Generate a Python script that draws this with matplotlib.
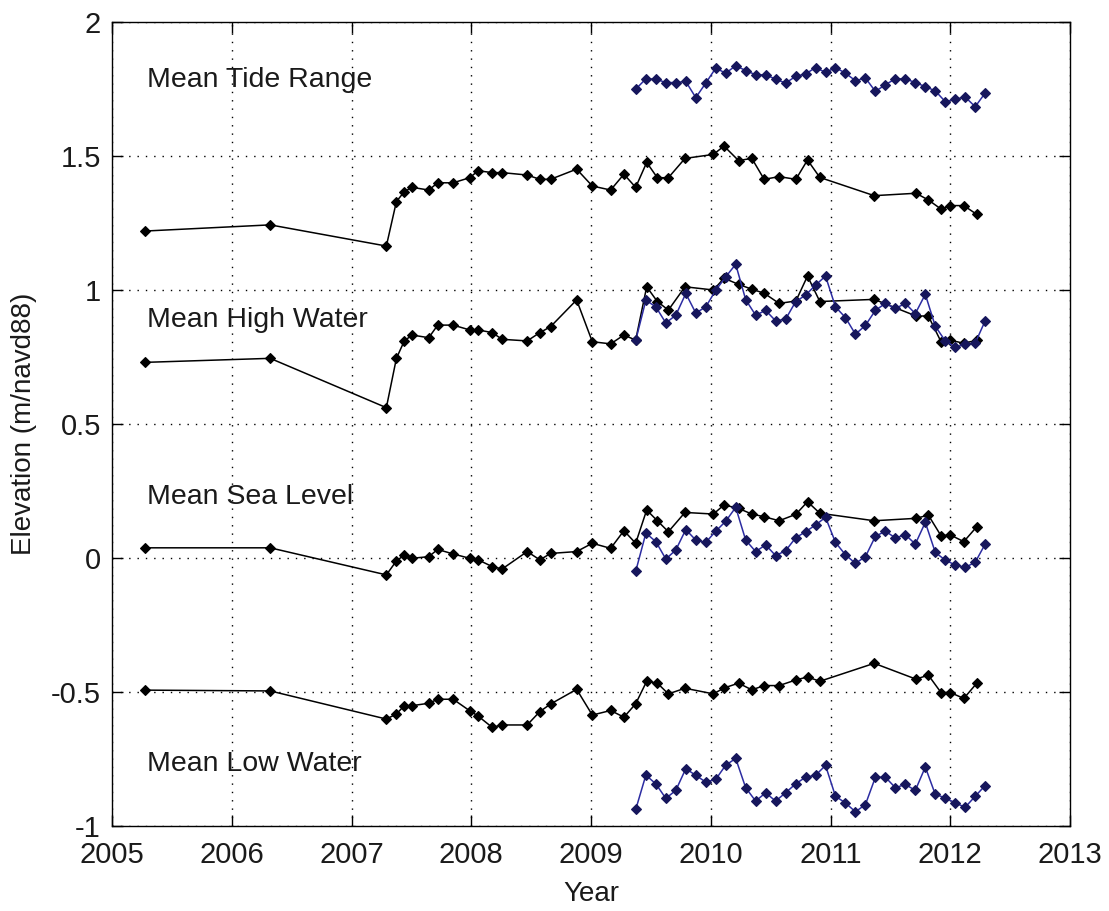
import numpy as np
import pandas as pd
import matplotlib
matplotlib.use("Agg")
import matplotlib.pyplot as plt
from matplotlib.ticker import FuncFormatter

plt.rcParams['font.family'] = ['Liberation Sans', 'DejaVu Sans']

# Survey epochs (decimal year) for the long record
black_years = [2005.276, 2006.321, 2007.291, 2007.375, 2007.441, 2007.506, 2007.645,
               2007.720, 2007.849, 2007.987, 2008.058, 2008.175, 2008.258, 2008.467,
               2008.573, 2008.662, 2008.880, 2009.011, 2009.164, 2009.275, 2009.373,
               2009.465, 2009.554, 2009.646, 2009.785, 2010.022, 2010.111, 2010.232,
               2010.343, 2010.446, 2010.571, 2010.711, 2010.808, 2010.911, 2011.365,
               2011.714, 2011.817, 2011.923, 2012.001, 2012.113, 2012.222]

tide_range_k = [1.220, 1.243, 1.164, 1.330, 1.367, 1.383, 1.373, 1.400, 1.400, 1.419,
                1.445, 1.438, 1.438, 1.429, 1.413, 1.413, 1.451, 1.388, 1.373, 1.432,
                1.383, 1.476, 1.419, 1.419, 1.491, 1.506, 1.537, 1.483, 1.491, 1.413,
                1.423, 1.413, 1.485, 1.420, 1.352, 1.361, 1.336, 1.302, 1.315, 1.315,
                1.282]
mhw_k = [0.730, 0.745, 0.561, 0.745, 0.810, 0.832, 0.822, 0.869, 0.869, 0.851,
         0.851, 0.841, 0.816, 0.810, 0.841, 0.863, 0.963, 0.807, 0.799, 0.832,
         0.813, 1.012, 0.957, 0.925, 1.012, 1.000, 1.044, 1.021, 1.003, 0.988,
         0.950, 0.959, 1.052, 0.957, 0.965, 0.903, 0.903, 0.807, 0.813, 0.801,
         0.813]
msl_k = [0.038, 0.038, -0.063, -0.011, 0.011, -0.001, 0.005, 0.032, 0.015, -0.001,
         -0.007, -0.032, -0.041, 0.024, -0.007, 0.017, 0.024, 0.055, 0.036, 0.102,
         0.055, 0.179, 0.139, 0.098, 0.170, 0.164, 0.198, 0.185, 0.164, 0.154,
         0.139, 0.163, 0.210, 0.167, 0.139, 0.148, 0.160, 0.083, 0.086, 0.061,
         0.117]
mlw_k = [-0.493, -0.496, -0.601, -0.582, -0.551, -0.551, -0.542, -0.527, -0.527, -0.570,
         -0.590, -0.632, -0.623, -0.623, -0.573, -0.545, -0.490, -0.586, -0.569, -0.594,
         -0.544, -0.460, -0.467, -0.507, -0.486, -0.507, -0.485, -0.467, -0.492, -0.476,
         -0.476, -0.455, -0.444, -0.460, -0.393, -0.452, -0.437, -0.502, -0.502, -0.524,
         -0.467]

# Monthly gauge record, May 2009 - Apr 2012 (mid-month)
blue_months = pd.period_range('2009-05', '2012-04', freq='M')
blue_years = np.asarray(blue_months.year + (blue_months.month - 0.5) / 12)

tide_range_b = [1.750, 1.788, 1.787, 1.774, 1.774, 1.778, 1.718, 1.772, 1.828, 1.809,
                1.837, 1.819, 1.803, 1.803, 1.787, 1.772, 1.797, 1.806, 1.830, 1.812,
                1.830, 1.809, 1.781, 1.791, 1.741, 1.766, 1.788, 1.788, 1.774, 1.759,
                1.743, 1.703, 1.712, 1.720, 1.684, 1.735]
mhw_b = [0.815, 0.962, 0.937, 0.877, 0.906, 0.987, 0.914, 0.937, 0.999, 1.049,
         1.096, 0.964, 0.906, 0.924, 0.885, 0.891, 0.956, 0.981, 1.018, 1.052,
         0.937, 0.897, 0.835, 0.868, 0.924, 0.950, 0.931, 0.950, 0.912, 0.984,
         0.865, 0.810, 0.787, 0.797, 0.802, 0.885]
msl_b = [-0.047, 0.093, 0.061, -0.004, 0.030, 0.106, 0.067, 0.058, 0.100, 0.137,
         0.189, 0.067, 0.024, 0.049, 0.009, 0.027, 0.075, 0.098, 0.123, 0.152,
         0.058, 0.012, -0.020, 0.005, 0.081, 0.100, 0.075, 0.087, 0.052, 0.133,
         0.021, -0.008, -0.026, -0.035, -0.016, 0.052]
mlw_b = [-0.936, -0.810, -0.843, -0.897, -0.867, -0.786, -0.811, -0.836, -0.826, -0.773,
         -0.748, -0.857, -0.907, -0.876, -0.907, -0.876, -0.843, -0.818, -0.811, -0.774,
         -0.889, -0.914, -0.947, -0.920, -0.818, -0.818, -0.857, -0.845, -0.867, -0.780,
         -0.882, -0.895, -0.914, -0.930, -0.889, -0.849]

labels = ['Mean Tide Range', 'Mean High Water', 'Mean Sea Level', 'Mean Low Water']
label_y = [1.758, 0.862, 0.203, -0.793]

fig = plt.figure(figsize=(11.09, 9.11), dpi=100)
ax = fig.add_axes([112 / 1109, 1 - 826 / 911, 958 / 1109, 804 / 911])

blue_line = '#2c2ca2'
blue_mark = '#16165c'

for series in (tide_range_k, mhw_k, msl_k, mlw_k):
    ax.plot(black_years, series, '-', color='k', lw=1.1,
            marker='D', ms=4.8, mfc='k', mec='k', mew=0.8, zorder=3)

for series in (tide_range_b, mhw_b, msl_b, mlw_b):
    ax.plot(blue_years, series, '-', color=blue_line, lw=1.1,
            marker='D', ms=4.8, mfc=blue_mark, mec=blue_mark, mew=0.8, zorder=4)

for text, y in zip(labels, label_y):
    ax.text(2005.29, y, text, fontsize=20.5, color='#1a1a1a', ha='left', va='baseline')

ax.set_xlim(2005, 2013)
ax.set_ylim(-1, 2)
ax.set_xticks(np.arange(2005, 2014))
ax.set_yticks([-1, -0.5, 0, 0.5, 1, 1.5, 2])
ax.yaxis.set_major_formatter(FuncFormatter(lambda v, pos: f'{v:g}'))

ax.grid(True, color='k', linestyle=(0, (1, 5)), linewidth=1.0)
ax.set_axisbelow(True)

ax.tick_params(direction='in', length=8, width=1.0, top=True, right=True,
               labelsize=21, labelcolor='#1a1a1a')
ax.tick_params(axis='x', pad=11)
ax.tick_params(axis='y', pad=8)
for spine in ax.spines.values():
    spine.set_linewidth(1.0)

ax.set_xlabel('Year', fontsize=20, color='#1a1a1a')
ax.set_ylabel('Elevation (m/navd88)', fontsize=20, color='#1a1a1a')
ax.xaxis.set_label_coords(0.5, -0.068)
ax.yaxis.set_label_coords(-0.078, 0.5)

fig.savefig('out.png', dpi=100)
